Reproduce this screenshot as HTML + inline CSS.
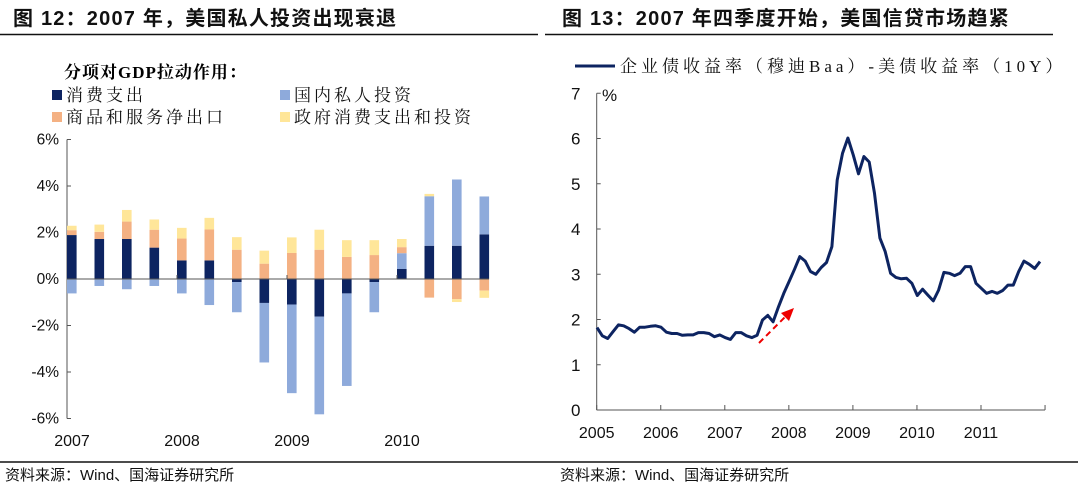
<!DOCTYPE html>
<html><head><meta charset="utf-8">
<style>
html,body{margin:0;padding:0;background:#fff;}
svg{display:block;font-family:"Liberation Sans","Noto Sans CJK SC",sans-serif;}
.t{font-size:20px;font-weight:bold;fill:#111;letter-spacing:1.2px;}
.ax{font-size:15.5px;fill:#111;}
.lg{font-family:"Liberation Serif","Noto Serif CJK SC",serif;font-size:17px;fill:#111;letter-spacing:3px;}
.lg2{font-family:"Liberation Serif","Noto Serif CJK SC",serif;font-size:17px;fill:#111;letter-spacing:4px;}
.src{font-size:15px;fill:#111;}
</style></head>
<body>
<svg id="page" width="1080" height="494" viewBox="0 0 1080 494" xmlns="http://www.w3.org/2000/svg">
<text class="t" x="13" y="25">图 12：2007 年，美国私人投资出现衰退</text>
<line x1="0" y1="34.5" x2="538" y2="34.5" stroke="#111" stroke-width="1.5"/>
<text class="t" x="562" y="25">图 13：2007 年四季度开始，美国信贷市场趋紧</text>
<line x1="545" y1="34.5" x2="1053" y2="34.5" stroke="#111" stroke-width="1.5"/>
<line x1="0" y1="462" x2="1078" y2="462" stroke="#111" stroke-width="1.5"/>
<text class="src" x="5" y="480">资料来源：Wind、国海证券研究所</text>
<text class="src" x="560" y="480">资料来源：Wind、国海证券研究所</text>

<g>
<text x="64" y="78" style="font-family:'Liberation Serif','Noto Serif CJK SC',serif;font-size:17px;font-weight:bold;letter-spacing:1px">分项对GDP拉动作用：</text>
<rect x="52" y="90" width="10" height="10" fill="#0d2461"/>
<text class="lg" x="66" y="101">消费支出</text>
<rect x="280" y="90" width="10" height="10" fill="#8eaadb"/>
<text class="lg" x="294" y="101">国内私人投资</text>
<rect x="52" y="112" width="10" height="10" fill="#f4b183"/>
<text class="lg" x="66" y="123">商品和服务净出口</text>
<rect x="280" y="112" width="10" height="10" fill="#ffe699"/>
<text class="lg" x="294" y="123">政府消费支出和投资</text>
</g>
<g id="left"></g>

<g>
<line x1="575" y1="66" x2="615" y2="66" stroke="#0d2461" stroke-width="3"/>
<text class="lg2" x="620" y="72">企业债收益率（穆迪Baa）-美债收益率（10Y）</text>
</g>
<g id="right"></g>
</svg>
<script>
const NS="http://www.w3.org/2000/svg";
// left chart data (%)
const quarters=["2007Q1","2007Q2","2007Q3","2007Q4","2008Q1","2008Q2","2008Q3","2008Q4","2009Q1","2009Q2","2009Q3","2009Q4","2010Q1","2010Q2","2010Q3","2010Q4"];
const consumption=[1.89,1.72,1.72,1.35,0.8,0.8,-0.13,-1.03,-1.1,-1.62,-0.62,-0.13,0.43,1.43,1.43,1.92];
const investment=[-0.62,-0.3,-0.44,-0.3,-0.62,-1.12,-1.3,-2.56,-3.81,-4.2,-3.98,-1.3,0.68,2.13,2.85,1.63];
const netExports=[0.21,0.31,0.75,0.77,0.94,1.33,1.26,0.66,1.12,1.26,0.95,1.03,0.26,-0.8,-0.87,-0.5];
const government=[0.19,0.31,0.5,0.44,0.46,0.5,0.54,0.56,0.67,0.86,0.72,0.64,0.35,0.1,-0.12,-0.31];
const leftTicks=[6,4,2,0,-2,-4,-6];
const yearLabelsL=["2007","2008","2009","2010"];
// right chart data (monthly 2005-01 .. 2011-12)
const spread=[1.82,1.64,1.58,1.73,1.88,1.86,1.80,1.72,1.83,1.83,1.85,1.86,
1.83,1.72,1.69,1.69,1.65,1.66,1.66,1.71,1.71,1.69,1.62,1.66,
1.60,1.56,1.71,1.71,1.64,1.60,1.65,1.99,2.09,1.95,2.28,2.58,
2.84,3.11,3.39,3.29,3.06,3.00,3.15,3.26,3.61,5.08,5.67,6.01,
5.64,5.22,5.60,5.48,4.79,3.80,3.50,3.02,2.93,2.90,2.91,2.80,
2.53,2.67,2.54,2.41,2.65,3.04,3.02,2.97,3.02,3.17,3.17,2.80,
2.69,2.58,2.62,2.58,2.64,2.76,2.76,3.06,3.29,3.22,3.13,3.28];
const rightTicks=[0,1,2,3,4,5,6,7];
const yearLabelsR=["2005","2006","2007","2008","2009","2010","2011"];

function el(tag,attrs,parent){const e=document.createElementNS(NS,tag);for(const k in attrs)e.setAttribute(k,attrs[k]);parent.appendChild(e);return e;}

// LEFT
const L=document.getElementById('left');
const lx0=67,slot=27.5,bw=9.6;
const ly=v=>279-v*23.25;
leftTicks.forEach(t=>{
 const tx=el('text',{x:lx0-8,y:ly(t)+5,'text-anchor':'end',class:'ax'},L);
 tx.textContent=t+'%';
 
 
 const tk=el('line',{x1:lx0,x2:lx0+4,y1:ly(t),y2:ly(t),stroke:'#555'},L);
 
 
});
const yaxL=el('line',{x1:lx0,x2:lx0,y1:ly(6),y2:ly(-6),stroke:'#555'},L);


const series=[[consumption,'#0d2461','bar-consumption'],[investment,'#8eaadb','bar-investment'],[netExports,'#f4b183','bar-net-exports'],[government,'#ffe699','bar-government']];
quarters.forEach((q,i)=>{
 let pos=0,neg=0;const x=lx0+i*slot;
 series.forEach(([arr,col,nm])=>{
  const v=arr[i];let y0,y1;
  if(v>=0){y0=pos;y1=pos+v;pos=y1;}else{y0=neg;y1=neg+v;neg=y1;}
  const r=el('rect',{x:x,y:Math.min(ly(y0),ly(y1)),width:bw,height:Math.abs(ly(y1)-ly(y0)),fill:col},L);
  
  
 });
});
const zl=el('line',{x1:lx0,x2:lx0+quarters.length*slot-18,y1:ly(0),y2:ly(0),stroke:'#555'},L);


yearLabelsL.forEach((y,i)=>{
 const x=lx0+i*4*slot;
 if(i>0){const tk=el('line',{x1:x,x2:x,y1:ly(0)-4,y2:ly(0),stroke:'#555'},L);
 
 }
 const t=el('text',{x:x+5,y:446,'text-anchor':'middle',class:'ax',style:'font-size:16px'},L);
 t.textContent=y;
 
 
});

// RIGHT
const R=document.getElementById('right');
const rx0=596.7,yrW=64.05;
const rx=i=>rx0+i*yrW/12+0.3;
const ry=v=>410-v*45.25;
const yaxR=el('line',{x1:rx0,x2:rx0,y1:ry(7),y2:ry(0),stroke:'#555'},R);


const xaxR=el('line',{x1:rx0,x2:rx0+7*yrW,y1:ry(0),y2:ry(0),stroke:'#555'},R);


rightTicks.forEach(t=>{
 const tk=el('line',{x1:rx0,x2:rx0+4,y1:ry(t),y2:ry(t),stroke:'#555'},R);
 
 
 const tx=el('text',{x:rx0-21,y:ry(t)+6,'text-anchor':'middle',class:'ax',style:'font-size:17px'},R);
 tx.textContent=t;
 
 
});
const pc=el('text',{x:602,y:101,class:'ax',style:'font-size:17px'},R);
pc.textContent='%';


yearLabelsR.forEach((y,i)=>{
 const x=rx0+i*yrW;
 const tk=el('line',{x1:x,x2:x,y1:ry(0),y2:ry(0)-5,stroke:'#555'},R);
 
 
 const t=el('text',{x:x,y:438,'text-anchor':'middle',class:'ax',style:'font-size:16px'},R);
 t.textContent=y;
 
 
});
const tkEnd=el('line',{x1:rx0+7*yrW,x2:rx0+7*yrW,y1:ry(0),y2:ry(0)-5,stroke:'#555'},R);


const line=el('polyline',{points:spread.map((v,i)=>rx(i).toFixed(1)+','+ry(v).toFixed(1)).join(' '),fill:'none',stroke:'#0d2461','stroke-width':3,'stroke-linejoin':'round'},R);


const ar=el('line',{x1:759,y1:343,x2:786,y2:316,stroke:'#e00',"stroke-width":2,"stroke-dasharray":"6,4"},R);


const ah=el('polygon',{points:'794,308 781,313 789,321',fill:'#e00'},R);


</script>
</body></html>
